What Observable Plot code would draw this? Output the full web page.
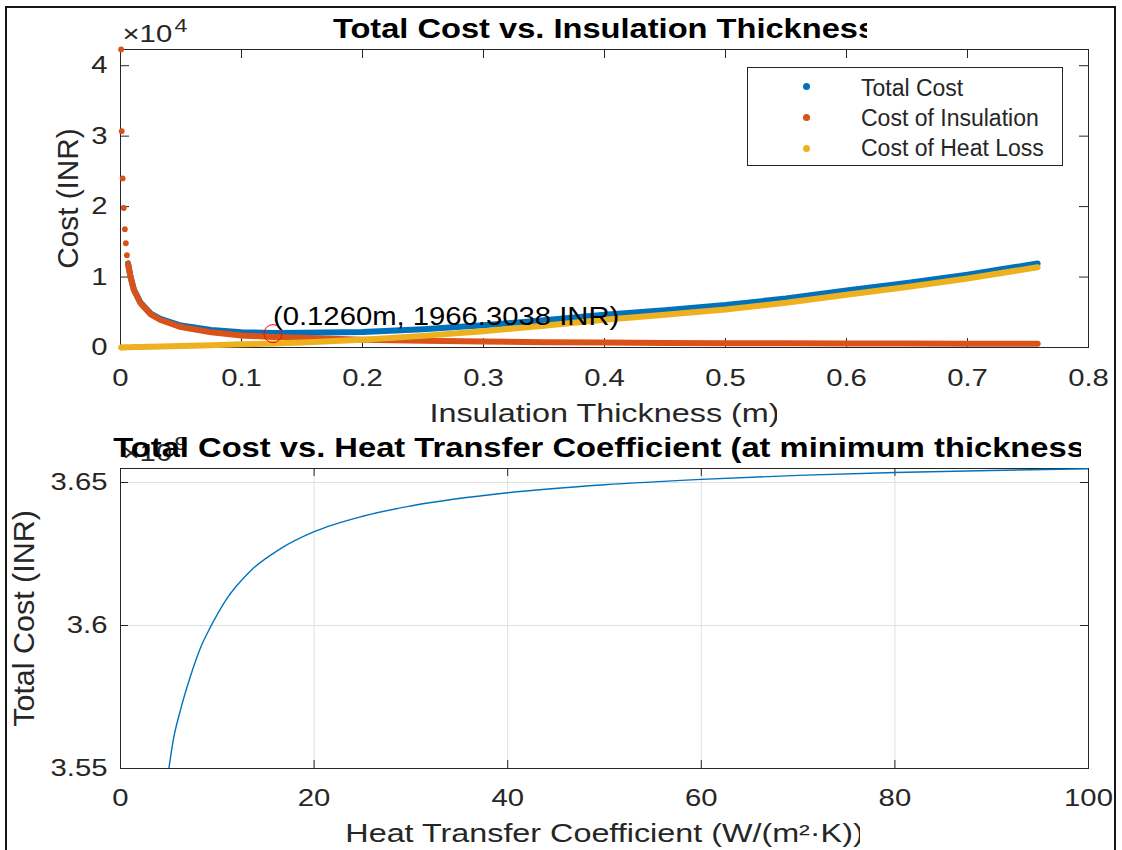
<!DOCTYPE html>
<html>
<head>
<meta charset="utf-8">
<script src="https://cdn.jsdelivr.net/npm/d3@7"></script>
<script src="https://cdn.jsdelivr.net/npm/@observablehq/plot@0.6"></script>
<style>
  html, body { margin: 0; padding: 0; background: #fff; }
  #figure { position: relative; width: 1122px; height: 850px; overflow: hidden; background: #fff;
            font-family: "Liberation Sans", Arial, Helvetica, sans-serif; }
  #border { position: absolute; left: 5px; top: 6px; width: 1111px; height: 900px;
            box-sizing: border-box; border: 2px solid #161616; }
  .panel { position: absolute; left: 0; }
  .panel svg { overflow: visible; }
  #legend { position: absolute; left: 747px; top: 67px; width: 316px; height: 99px; box-sizing: border-box;
            border: 1.5px solid #262626; background: #fff; }
  #legend .swatch { position: absolute; width: 7px; height: 7px; border-radius: 50%; }
  #legend .name { position: absolute; font-size: 23px; line-height: 23px; color: #262626; white-space: nowrap; }
</style>
</head>
<body>
<div id="figure">
  <div id="border"></div>
  <div id="top" class="panel" style="top:0px"></div>
  <div id="bottom" class="panel" style="top:425px"></div>
  <div id="legend"></div>
</div>
<script>
// ---- Cost vs. insulation thickness ----
const seriesNames = ["Total Cost", "Cost of Insulation", "Cost of Heat Loss"];
const seriesColors = ["#0072BD", "#D95319", "#EDB120"];

// Thinnest layers, where the insulation cost falls fast enough for its points to stand apart
const sparseThickness = [0.0005, 0.0010, 0.0018, 0.0027, 0.0036, 0.0044, 0.0053];
const sparseInsulation = [42300, 30700, 24000, 19800, 16800, 14800, 13100];
const sparseHeatLoss = [0, 5, 10, 15, 20, 25, 30];

// Rest of the sweep (m), costs in INR
const thickness = [0.0062, 0.0083, 0.011, 0.0165, 0.025, 0.033, 0.05, 0.075, 0.1, 0.126, 0.15,
                   0.2, 0.25, 0.3, 0.35, 0.4, 0.45, 0.5, 0.55, 0.6, 0.65, 0.7, 0.758];
const insulationCost = [11900, 10000, 8200, 6300, 4700, 3900, 2900, 2150, 1710, 1500, 1380,
                        1100, 950, 850, 760, 700, 650, 620, 600, 580, 560, 540, 520];
const heatLossCost = [40, 50, 60, 80, 110, 150, 220, 330, 450, 560, 700,
                      1100, 1650, 2300, 3100, 3950, 4650, 5400, 6350, 7500, 8600, 9800, 11400];
const totalCost = [11940, 10050, 8260, 6380, 4810, 4050, 3120, 2480, 2160, 2060, 2080,
                   2200, 2600, 3150, 3860, 4650, 5300, 6020, 6950, 8080, 9160, 10340, 11920];

// Optimum found by the sweep
const minThickness = 0.1260;
const minCost = 1966.3038;

const xTicksTop = [0, 0.1, 0.2, 0.3, 0.4, 0.5, 0.6, 0.7, 0.8];
const xTickLabelsTop = ["0", "0.1", "0.2", "0.3", "0.4", "0.5", "0.6", "0.7", "0.8"];
const yTicksTop = [0, 10000, 20000, 30000, 40000];
const yTickLabelsTop = ["0", "1", "2", "3", "4"];
const yExponentTop = "4";
const xDomainTop = [0, 0.8];
const yDomainTop = [0, 42300];

const titleTop = "Total Cost vs. Insulation Thickness";
const xLabelTop = "Insulation Thickness (m)";
const yLabelTop = "Cost (INR)";

// ---- Total cost vs. heat transfer coefficient ----
const coefficient = [5, 5.4, 6.2, 7.2, 8.3, 9.3, 10.9, 13.4, 16.5, 20, 25, 30, 40, 50, 60, 70, 80, 90, 100];
const costByCoefficient = [3.5500e9, 3.5590e9, 3.5705e9, 3.5820e9, 3.5925e9, 3.5995e9, 3.6090e9, 3.6190e9,
                           3.6268e9, 3.6328e9, 3.6382e9, 3.6418e9, 3.6464e9, 3.6492e9, 3.6511e9, 3.6525e9,
                           3.6535e9, 3.6542e9, 3.6548e9];

const xTicksBottom = [0, 20, 40, 60, 80, 100];
const xTickLabelsBottom = ["0", "20", "40", "60", "80", "100"];
const yTicksBottom = [3.55e9, 3.6e9, 3.65e9];
const yTickLabelsBottom = ["3.55", "3.6", "3.65"];
const yExponentBottom = "9";
const xDomainBottom = [0, 100];
const yDomainBottom = [3.55e9, 3.6549e9];

const titleBottom = "Total Cost vs. Heat Transfer Coefficient (at minimum thickness)";
const xLabelBottom = "Heat Transfer Coefficient (W/(m²·K))";
const yLabelBottom = "Total Cost (INR)";

// ---- layout & style ----
const W = 1122, H = 425;
const ML = 120, MR = 34;
const axisColor = "#262626";
const gridColor = "#dfdfdf";
const fontFamily = '"Liberation Sans", Arial, Helvetica, sans-serif';
const label = (ticks, labels) => (d) => labels[ticks.indexOf(d)];

function boxTicks(xTicks, yTicks, plotW, plotH, len) {
  return [
    Plot.tickX(xTicks, {x: d => d, stroke: axisColor, insetTop: plotH - len}),
    Plot.tickX(xTicks, {x: d => d, stroke: axisColor, insetBottom: plotH - len}),
    Plot.tickY(yTicks, {y: d => d, stroke: axisColor, insetRight: plotW - len}),
    Plot.tickY(yTicks, {y: d => d, stroke: axisColor, insetLeft: plotW - len})
  ];
}

const [blue, orange, yellow] = seriesColors;
const bandStyle = {strokeWidth: 6, strokeLinecap: "round", strokeLinejoin: "round"};
const minPoint = {t: minThickness, cost: minCost};
const annotation = `(${minThickness.toFixed(4)}m, ${minCost.toFixed(4)} INR)`;

const topMT = 49, topMB = 78;
const topChart = Plot.plot({
  width: W, height: H,
  marginLeft: ML, marginRight: MR, marginTop: topMT, marginBottom: topMB,
  x: {domain: xDomainTop},
  y: {domain: yDomainTop},
  style: {fontFamily, fontSize: "24px", color: axisColor, background: "transparent", overflow: "visible"},
  marks: [
    Plot.frame({stroke: axisColor, strokeWidth: 1}),
    ...boxTicks(xTicksTop, yTicksTop, W - ML - MR, H - topMT - topMB, 9),
    Plot.axisX({ticks: xTicksTop, tickSize: 0, tickPadding: 21, fontSize: 24,
                tickFormat: label(xTicksTop, xTickLabelsTop), label: null}),
    Plot.axisY({ticks: yTicksTop, tickSize: 0, tickPadding: 13, fontSize: 24,
                tickFormat: label(yTicksTop, yTickLabelsTop), label: null}),
    Plot.line(thickness, {x: d => d, y: totalCost, stroke: blue, ...bandStyle}),
    Plot.line(thickness, {x: d => d, y: insulationCost, stroke: orange, ...bandStyle}),
    Plot.dot(sparseThickness, {x: d => d, y: sparseInsulation, r: 2.9, fill: orange}),
    Plot.line(thickness, {x: d => d, y: heatLossCost, stroke: yellow, ...bandStyle}),
    Plot.dot(sparseThickness, {x: d => d, y: sparseHeatLoss, r: 2.9, fill: yellow}),
    Plot.dot([minPoint], {x: "t", y: "cost", r: 9, stroke: "#ff0000", fill: "none", strokeWidth: 1}),
    Plot.text([minPoint], {x: "t", y: "cost", text: () => annotation, textAnchor: "start",
                           lineAnchor: "bottom", dy: -9, fontSize: 25, fill: "#000"}),
    Plot.text(["×10"], {text: d => d, frameAnchor: "top-left", textAnchor: "start", lineAnchor: "bottom",
                        dx: 2, dy: -7.3, fontSize: 24, fill: axisColor}),
    Plot.text([yExponentTop], {text: d => d, frameAnchor: "top-left", textAnchor: "start", lineAnchor: "bottom",
                               dx: 54, dy: -18, fontSize: 19, fill: axisColor}),
    Plot.text([titleTop], {text: d => d, frameAnchor: "top", lineAnchor: "bottom", dy: -11.3,
                           fontSize: 28, fontWeight: "bold", fill: "#000"}),
    Plot.text([xLabelTop], {text: d => d, frameAnchor: "bottom", lineAnchor: "bottom", dy: 74,
                            fontSize: 26, fill: axisColor}),
    Plot.text([yLabelTop], {text: d => d, frameAnchor: "left", textAnchor: "middle", rotate: -90,
                            lineAnchor: "bottom", dx: -43, fontSize: 30, fill: axisColor})
  ]
});

const botMT = 43, botMB = 82;
const bottomChart = Plot.plot({
  width: W, height: H,
  marginLeft: ML, marginRight: MR, marginTop: botMT, marginBottom: botMB,
  x: {domain: xDomainBottom},
  y: {domain: yDomainBottom},
  style: {fontFamily, fontSize: "24px", color: axisColor, background: "transparent", overflow: "visible"},
  marks: [
    Plot.gridX({ticks: xTicksBottom, stroke: gridColor, strokeOpacity: 1}),
    Plot.gridY({ticks: yTicksBottom, stroke: gridColor, strokeOpacity: 1}),
    Plot.frame({stroke: axisColor, strokeWidth: 1}),
    ...boxTicks(xTicksBottom, yTicksBottom, W - ML - MR, H - botMT - botMB, 8),
    Plot.axisX({ticks: xTicksBottom, tickSize: 0, tickPadding: 20, fontSize: 24,
                tickFormat: label(xTicksBottom, xTickLabelsBottom), label: null}),
    Plot.axisY({ticks: yTicksBottom, tickSize: 0, tickPadding: 13, fontSize: 24,
                tickFormat: label(yTicksBottom, yTickLabelsBottom), label: null}),
    Plot.line(coefficient, {x: d => d, y: costByCoefficient, stroke: blue, strokeWidth: 1.4,
                            curve: "monotone-x", clip: true}),
    Plot.text(["×10"], {text: d => d, frameAnchor: "top-left", textAnchor: "start", lineAnchor: "bottom",
                        dx: 2, dy: -8, fontSize: 24, fill: axisColor}),
    Plot.text([yExponentBottom], {text: d => d, frameAnchor: "top-left", textAnchor: "start", lineAnchor: "bottom",
                                  dx: 54, dy: -18.5, fontSize: 19, fill: axisColor}),
    Plot.text([titleBottom], {text: d => d, frameAnchor: "top", lineAnchor: "bottom", dy: -11.3,
                              fontSize: 28, fontWeight: "bold", fill: "#000"}),
    Plot.text([xLabelBottom], {text: d => d, frameAnchor: "bottom", lineAnchor: "bottom", dy: 73.5,
                               fontSize: 26, fill: axisColor}),
    Plot.text([yLabelBottom], {text: d => d, frameAnchor: "left", textAnchor: "middle", rotate: -90,
                               lineAnchor: "bottom", dx: -87, fontSize: 30, fill: axisColor})
  ]
});

document.getElementById("top").appendChild(topChart);
document.getElementById("bottom").appendChild(bottomChart);

// The figure's lettering runs wide: widen each string horizontally by a set factor.
const widen = new Map([
  [titleTop, 1.165], [titleBottom, 1.168],
  [xLabelTop, 1.245], [xLabelBottom, 1.243],
  [yLabelTop, 0.99], [yLabelBottom, 1.015],
  [annotation, 1.17]
]);
function widenText(svg) {
  svg.querySelectorAll("text").forEach((t) => {
    const f = widen.get(t.textContent) ?? 1.22;
    const w = t.getComputedTextLength();
    if (w > 0) {
      t.setAttribute("textLength", (w * f).toFixed(2));
      t.setAttribute("lengthAdjust", "spacingAndGlyphs");
    }
  });
}

// Titles and axis labels are cut off at a fixed right edge.
const NS = "http://www.w3.org/2000/svg";
function cutRight(svg, str, xMax, id) {
  const t = [...svg.querySelectorAll("text")].find((e) => e.textContent === str);
  if (!t) return;
  let defs = svg.querySelector("defs");
  if (!defs) defs = svg.insertBefore(document.createElementNS(NS, "defs"), svg.firstChild);
  const cp = document.createElementNS(NS, "clipPath");
  cp.setAttribute("id", id);
  const r = document.createElementNS(NS, "rect");
  r.setAttribute("x", -200); r.setAttribute("y", -200);
  r.setAttribute("width", xMax + 200); r.setAttribute("height", 1000);
  cp.appendChild(r); defs.appendChild(cp);
  const g = t.parentNode;
  const wrap = document.createElementNS(NS, "g");
  wrap.setAttribute("clip-path", `url(#${id})`);
  g.parentNode.insertBefore(wrap, g);
  wrap.appendChild(g);
}

widenText(topChart);
widenText(bottomChart);
cutRight(topChart, titleTop, 867, "cut-title-top");
cutRight(topChart, xLabelTop, 777, "cut-xlabel-top");
cutRight(bottomChart, titleBottom, 1081, "cut-title-bottom");
cutRight(bottomChart, xLabelBottom, 860, "cut-xlabel-bottom");

// Legend
const legend = document.getElementById("legend");
seriesNames.forEach((name, i) => {
  const sw = document.createElement("span");
  sw.className = "swatch";
  sw.style.left = (58 - 3.5) + "px";
  sw.style.top = (18.5 + 31 * i - 3.5) + "px";
  sw.style.background = seriesColors[i];
  legend.appendChild(sw);
  const tx = document.createElement("span");
  tx.className = "name";
  tx.style.left = "113px";
  tx.style.top = (28 + 30 * i - 19.5) + "px";
  tx.textContent = name;
  legend.appendChild(tx);
});
</script>
</body>
</html>
